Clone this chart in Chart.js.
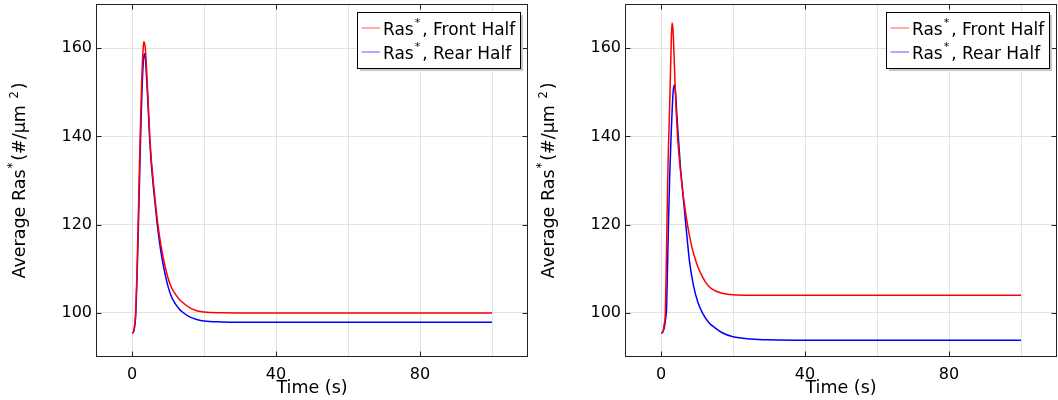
<!DOCTYPE html>
<html>
<head>
<meta charset="utf-8">
<script src="https://cdn.jsdelivr.net/npm/chart.js@4"></script>
<style>
html,body{margin:0;padding:0;background:#fff;}
#wrap{position:relative;width:1058px;height:400px;overflow:hidden;}
.box{position:absolute;top:0;width:529px;height:400px;}
canvas{display:block;}
</style>
</head>
<body>
<div id="wrap">
  <div class="box" style="left:0"><canvas id="c1" width="529" height="400"></canvas></div>
  <div class="box" style="left:529px"><canvas id="c2" width="529" height="400"></canvas></div>
</div>
<script>
// ---------- data ----------
// ^{...} marks superscript text
const seriesLabels = ['Ras^{*}, Front Half', 'Ras^{*}, Rear Half'];
const xTitle = 'Time (s)';
const yTitle = 'Average Ras^{*}(#/µm ^{2})';

const xGridValues = [0, 20, 40, 60, 80, 100];
const xTickLabels = [0, 40, 80];
const yTickValues = [100, 120, 140, 160];

// left panel, front half (red)
const leftFrontTime = [0, 0.3, 0.6, 1.0, 1.4, 1.7, 2.0, 2.3, 2.6, 2.9, 3.1, 3.3, 3.5, 3.7, 4.0, 4.4, 4.9, 5.3, 5.6, 6.0, 6.5, 7.2, 8.0, 9.0, 10, 11, 12, 13, 14, 16, 18, 20, 25, 30, 100];
const leftFrontValue = [95.5, 95.6, 96.4, 100, 110, 120, 131, 141, 150, 157, 160, 161.5, 161, 160, 156, 149.5, 140.5, 135.5, 132.5, 129, 125, 120, 115.5, 111.2, 107.9, 105.7, 104.3, 103.2, 102.4, 101.2, 100.5, 100.2, 100.03, 100, 100];

// left panel, rear half (blue)
const leftRearTime = [0, 0.3, 0.6, 1.0, 1.4, 1.7, 2.0, 2.3, 2.6, 2.9, 3.2, 3.5, 3.7, 4.0, 4.4, 4.9, 5.3, 5.6, 6.0, 6.5, 7.2, 8.0, 9.0, 10, 11, 12, 13, 14, 16, 18, 20, 25, 30, 100];
const leftRearValue = [95.5, 95.5, 96.2, 99, 108, 117, 127, 137, 146, 153, 157.5, 158.7, 158, 154, 148, 139.5, 134.5, 131.5, 128, 124, 118.8, 114, 109.5, 106, 103.6, 102.1, 101, 100.2, 99.1, 98.5, 98.15, 97.95, 97.9, 97.9];

// right panel, front half (red)
const rightFrontTime = [0, 0.3, 0.6, 0.9, 1.2, 1.45, 1.7, 1.85, 2.2, 2.5, 2.8, 3.05, 3.3, 3.6, 3.9, 4.2, 4.6, 5.0, 5.5, 6.0, 6.6, 7.4, 8.5, 9.9, 11, 12.5, 14, 16.7, 20, 25, 100];
const rightFrontValue = [95.5, 95.5, 96, 97.5, 100, 110, 122, 130, 141, 150, 160, 165.7, 164.5, 159, 152, 146, 140, 135.8, 131.5, 127.8, 124, 119.8, 115.2, 111.2, 109, 106.8, 105.5, 104.5, 104.1, 104, 104];

// right panel, rear half (blue)
const rightRearTime = [0, 0.3, 0.6, 1.0, 1.3, 1.55, 1.8, 2.1, 2.4, 2.8, 3.1, 3.4, 3.7, 4.0, 4.4, 4.8, 5.4, 5.7, 6.2, 6.9, 7.9, 9.0, 10.2, 11.5, 13.4, 15, 17, 20, 25, 30, 40, 100];
const rightRearValue = [95.5, 95.5, 95.8, 97, 98.8, 101, 110, 121, 130.5, 140, 146, 150.3, 151.7, 150.3, 145, 140, 133, 130.3, 126, 120, 111.8, 106.3, 102.5, 100, 97.7, 96.6, 95.5, 94.6, 94.1, 93.9, 93.8, 93.8];

// ---------- drawing ----------
const FONT = "'DejaVu Sans', 'Noto Sans', sans-serif";

function toPoints(ts, vs) { return ts.map((t, i) => ({ x: t, y: vs[i] })); }

function richRuns(text) {
  const runs = [];
  const re = /\^\{([^}]*)\}/g;
  let last = 0, m;
  while ((m = re.exec(text)) !== null) {
    if (m.index > last) runs.push({ t: text.slice(last, m.index), sup: false });
    runs.push({ t: m[1], sup: true });
    last = re.lastIndex;
  }
  if (last < text.length) runs.push({ t: text.slice(last), sup: false });
  return runs;
}
function runWidth(ctx, r, size, supSize) {
  ctx.font = (r.sup ? supSize : size) + 'px ' + FONT;
  return ctx.measureText(r.t).width + (r.sup ? 3 : 0);
}
function measureRich(ctx, text, size, supSize) {
  return richRuns(text).reduce((w, r) => w + runWidth(ctx, r, size, supSize), 0);
}
function drawRich(ctx, text, x, y, size, supSize, raise) {
  let cx = x;
  ctx.textAlign = 'left';
  ctx.textBaseline = 'alphabetic';
  richRuns(text).forEach(r => {
    ctx.font = (r.sup ? supSize : size) + 'px ' + FONT;
    const up = r.sup ? (r.t === '*' ? raise : raise - 2) : 0;
    ctx.fillText(r.t, cx + (r.sup ? 1 : 0), y - up);
    cx += runWidth(ctx, r, size, supSize);
  });
}

const framePlugin = {
  id: 'frame',
  afterDraw(chart) {
    const { ctx, chartArea: a, scales } = chart;
    ctx.save();
    ctx.strokeStyle = '#222';
    ctx.lineWidth = 1;
    const L = Math.round(a.left) + 0.5, R = Math.round(a.right) - 0.5;
    const T = Math.round(a.top) + 0.5, B = Math.round(a.bottom) - 0.5;
    ctx.strokeRect(L, T, R - L, B - T);
    ctx.beginPath();
    xTickLabels.forEach(v => {
      const px = Math.round(scales.x.getPixelForValue(v)) + 0.5;
      ctx.moveTo(px, B); ctx.lineTo(px, B - 5);
      ctx.moveTo(px, T); ctx.lineTo(px, T + 5);
    });
    yTickValues.forEach(v => {
      const py = Math.round(scales.y.getPixelForValue(v)) + 0.5;
      ctx.moveTo(L, py); ctx.lineTo(L + 5, py);
      ctx.moveTo(R, py); ctx.lineTo(R - 5, py);
    });
    ctx.stroke();

    // y-axis title with superscripts (rotated)
    const ySize = 17.5, ySup = 11.5;
    const tw = measureRich(ctx, yTitle, ySize, ySup);
    const cy = (a.top + a.bottom) / 2;
    ctx.translate(24.5, cy);
    ctx.rotate(-Math.PI / 2);
    ctx.fillStyle = '#000';
    drawRich(ctx, yTitle, -tw / 2, 0, ySize, ySup, 9);
    ctx.restore();
  }
};

const legendPlugin = {
  id: 'boxLegend',
  afterDraw(chart) {
    const { ctx, chartArea: a } = chart;
    const ds = chart.data.datasets;
    const size = 17, sup = 11;
    ctx.save();
    let tw = 0;
    ds.forEach(d => { tw = Math.max(tw, measureRich(ctx, d.label, size, sup)); });
    const bw = Math.round(4 + 18.5 + 3 + tw + 5.5);
    const h = 56;
    const right = Math.round(a.right - 8.5);
    const left = right - bw + 0.5;
    const top = Math.round(a.top + 8) + 0.5;
    ctx.fillStyle = '#c8c8c8';
    ctx.fillRect(left + 2.5, top + 2.5, bw, h);
    ctx.fillStyle = '#fff';
    ctx.fillRect(left, top, bw, h);
    ctx.strokeStyle = '#000';
    ctx.lineWidth = 1;
    ctx.strokeRect(left, top, bw, h);
    ds.forEach((d, i) => {
      const base = top + 22.5 + i * 24;
      ctx.strokeStyle = d.legendColor;
      ctx.lineWidth = 1.2;
      ctx.beginPath();
      ctx.moveTo(left + 4, base - 7);
      ctx.lineTo(left + 22.5, base - 7);
      ctx.stroke();
      ctx.fillStyle = '#000';
      drawRich(ctx, d.label, left + 25.5, base, size, sup, 9);
    });
    ctx.restore();
  }
};

function makeChart(id, fT, fV, rT, rV) {
  return new Chart(document.getElementById(id), {
    type: 'line',
    data: {
      datasets: [
        { label: seriesLabels[0], data: toPoints(fT, fV), borderColor: '#ff0000', legendColor: 'rgba(255,0,0,0.55)', borderWidth: 1.5, pointRadius: 0, cubicInterpolationMode: 'monotone', fill: false },
        { label: seriesLabels[1], data: toPoints(rT, rV), borderColor: '#0000ff', legendColor: 'rgba(0,0,255,0.55)', borderWidth: 1.5, pointRadius: 0, cubicInterpolationMode: 'monotone', fill: false }
      ]
    },
    options: {
      responsive: false,
      animation: false,
      devicePixelRatio: 1,
      parsing: false,
      layout: { padding: { left: 0, right: 1, top: 4, bottom: 0 } },
      plugins: { legend: { display: false }, tooltip: { enabled: false } },
      scales: {
        x: {
          type: 'linear', min: -10, max: 110,
          afterFit(s) { s.height = 43; s.paddingLeft = 0; s.paddingRight = 0; },
          afterBuildTicks(s) { s.ticks = xGridValues.map(v => ({ value: v })); },
          ticks: { autoSkip: false, maxRotation: 0, padding: 8, color: '#000', font: { family: FONT, size: 16 },
                   callback: v => xTickLabels.includes(v) ? String(v) : '' },
          grid: { color: '#e2e2e2', lineWidth: 1, drawTicks: false },
          border: { display: false },
          title: { display: true, text: xTitle, color: '#000', font: { family: FONT, size: 17.5 }, padding: { top: 0, bottom: 1.5 } }
        },
        y: {
          type: 'linear', min: 90, max: 170,
          afterFit(s) { s.width = 96; s.paddingTop = 0; s.paddingBottom = 0; },
          afterBuildTicks(s) { s.ticks = yTickValues.map(v => ({ value: v })); },
          ticks: { padding: 4, color: '#000', font: { family: FONT, size: 16 },
                   callback: v => yTickValues.includes(v) ? String(v) : '' },
          grid: { color: '#e2e2e2', lineWidth: 1, drawTicks: false },
          border: { display: false },
          title: { display: false }
        }
      }
    },
    plugins: [framePlugin, legendPlugin]
  });
}

makeChart('c1', leftFrontTime, leftFrontValue, leftRearTime, leftRearValue);
makeChart('c2', rightFrontTime, rightFrontValue, rightRearTime, rightRearValue);
</script>
</body>
</html>
